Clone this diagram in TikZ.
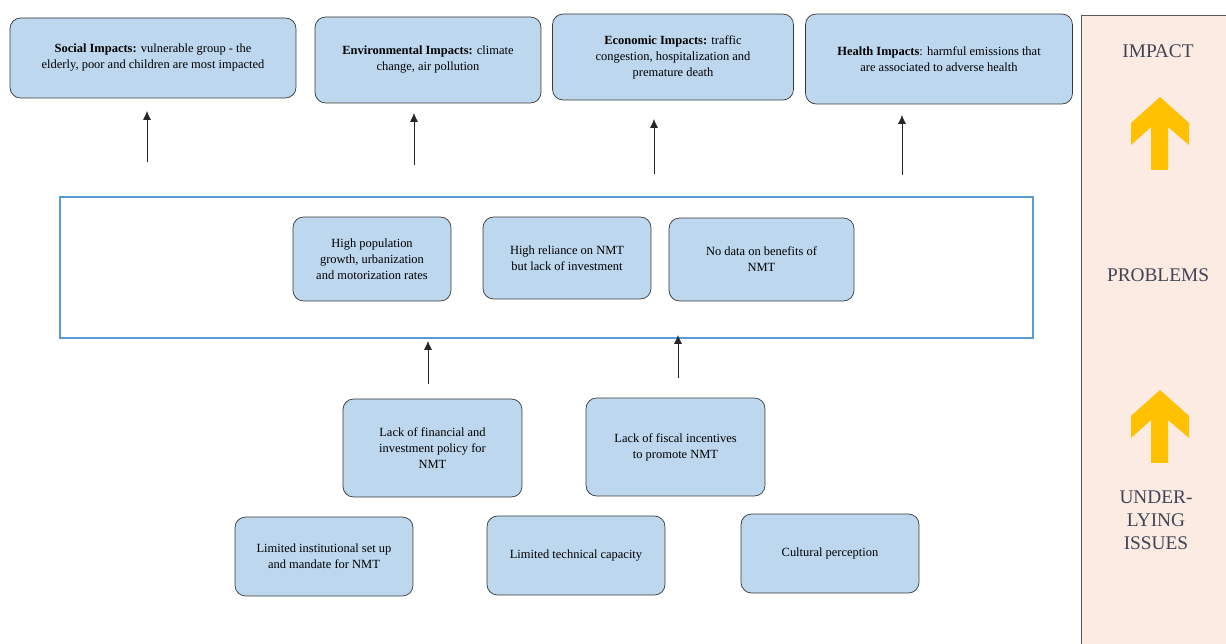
\documentclass[tikz,border=0pt]{standalone}
\usepackage{fontspec}
\setmainfont{Liberation Serif}
\usetikzlibrary{arrows.meta,positioning}
\definecolor{BoxBlue}{RGB}{189,215,238}
\definecolor{BoxEdge}{RGB}{55,55,55}
\definecolor{FrameBlue}{RGB}{91,155,213}
\definecolor{PanelPink}{RGB}{252,235,226}
\definecolor{PanelEdge}{RGB}{90,90,90}
\definecolor{ArrowGold}{RGB}{255,192,0}
\definecolor{LabelInk}{RGB}{64,68,84}

\begin{document}
\begin{tikzpicture}[x=0.02cm,y=-0.02cm,>=Latex,
    issuebox/.style={draw=BoxEdge,fill=BoxBlue,rounded corners=6pt,align=center,
      inner sep=2pt,font=\fontsize{7.1}{9.1}\selectfont},
    paneltext/.style={text=LabelInk,align=center,font=\fontsize{11}{13}\selectfont},
    link/.style={->,thin,black!85,>={Latex[length=5pt,width=4.5pt]}}]
      \useasboundingbox (0,0) rectangle (1226,644);
      % side panel
      \draw[fill=PanelPink,draw=PanelEdge] (1081,15) rectangle (1240,660);
      \node[paneltext] (lblimpact) at (1158,51) {IMPACT};
      \node[paneltext] (lblproblems) at (1158,275) {PROBLEMS};
      \node[paneltext] (lblissues) at (1156,520) {UNDER-\\LYING\\ISSUES};
      \foreach \dy in {0,293}
        \fill[ArrowGold] (1160,97+\dy) -- (1189,123+\dy) -- (1189,145+\dy) -- (1168,127+\dy)
          -- (1168,170+\dy) -- (1151,170+\dy) -- (1151,127+\dy) -- (1131,145+\dy)
          -- (1131,123+\dy) -- cycle;
      % impacts
      \node[issuebox,minimum width=5.72cm,minimum height=1.6cm] (social) at (153,58)
        {\textbf{Social Impacts:} vulnerable group - the\\elderly, poor and children are most impacted};
      \node[issuebox,minimum width=4.52cm,minimum height=1.72cm] (environ) at (428,60)
        {\textbf{Environmental Impacts:} climate\\change, air pollution};
      \node[issuebox,minimum width=4.82cm,minimum height=1.72cm] (economic) at (673,57)
        {\textbf{Economic Impacts:} traffic\\congestion, hospitalization and\\premature death};
      \node[issuebox,minimum width=5.34cm,minimum height=1.8cm] (health) at (939,59)
        {\textbf{Health Impacts}: harmful emissions that\\are associated to adverse health};
      % problems
      \node[draw=FrameBlue,line width=1.1pt,minimum width=19.46cm,minimum height=2.82cm] (problems) at (546.5,267.5) {};
      \node[issuebox,minimum width=3.16cm,minimum height=1.68cm] (growth) at (372,259)
        {High population\\growth, urbanization\\and motorization rates};
      \node[issuebox,minimum width=3.36cm,minimum height=1.64cm] (reliance) at (567,258)
        {High reliance on NMT\\but lack of investment};
      \node[issuebox,minimum width=3.7cm,minimum height=1.66cm] (nodata) at (761.5,259.5)
        {No data on benefits of\\NMT};
      % underlying issues
      \node[issuebox,minimum width=3.58cm,minimum height=1.96cm] (finance) at (432.5,448)
        {Lack of financial and\\investment policy for\\NMT};
      \node[issuebox,minimum width=3.58cm,minimum height=1.96cm] (fiscal) at (675.5,447)
        {Lack of fiscal incentives\\to promote NMT};
      \node[issuebox,minimum width=3.56cm,minimum height=1.58cm] (mandate) at (324,556.5)
        {Limited institutional set up\\and mandate for NMT};
      \node[issuebox,minimum width=3.56cm,minimum height=1.58cm] (technical) at (576,555.5)
        {Limited technical capacity};
      \node[issuebox,minimum width=3.56cm,minimum height=1.58cm] (cultural) at (830,553.5)
        {Cultural perception};
      % arrows
      \coordinate (s1) at (147,162); \coordinate (t1) at (147,111);
      \coordinate (s2) at (414,165); \coordinate (t2) at (414,113);
      \coordinate (s3) at (654,174); \coordinate (t3) at (654,119);
      \coordinate (s4) at (902,175); \coordinate (t4) at (902,115);
      \coordinate (s5) at (428,384); \coordinate (t5) at (428,341);
      \coordinate (s6) at (678,378); \coordinate (t6) at (678,335);
      \foreach \i in {1,...,6}
        \draw[link] (s\i) -- (t\i);
    \end{tikzpicture}
\end{document}
